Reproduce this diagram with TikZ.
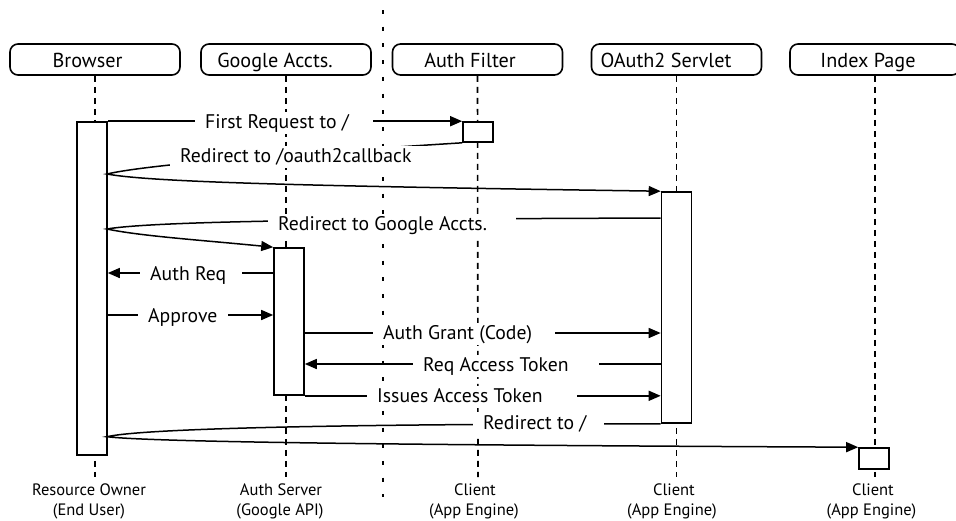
\documentclass[tikz,border=0pt]{standalone}
\usepackage{fontspec}
\setmainfont{PT Sans}
\usetikzlibrary{arrows.meta}
\newcommand{\msglab}[2]{\hspace*{10pt}#1\hspace*{#2}}
\tikzset{
  head/.style={draw, line width=1.6pt, rounded corners=8pt, minimum width=170pt, minimum height=31pt, inner sep=0pt},
  headtext/.style={font=\fontsize{20.2}{22}\selectfont, inner sep=0pt, anchor=base},
  life/.style={line width=1.6pt, dash pattern=on 6pt off 5pt},
  sepline/.style={line width=1.6pt, dash pattern=on 4pt off 12.7pt},
  act/.style={draw, fill=white, line width=1.6pt, minimum width=30pt, inner sep=0pt},
  msg/.style={line width=1.5pt, -{Triangle[length=12pt,width=10pt]}},
  lbl/.style={fill=white, font=\fontsize{19.7}{22}\selectfont, inner xsep=0pt, inner ysep=2pt, text height=14pt, text depth=4pt, anchor=base west},
  foot/.style={font=\fontsize{16.5}{20}\selectfont, inner sep=0pt, anchor=base},
}
\begin{document}
\begin{tikzpicture}[x=1pt,y=-1pt]
\useasboundingbox (0,0) rectangle (956,520);
% separator
\coordinate (sepT) at (383,10);
\coordinate (sepB) at (383,497);
\draw[sepline] (sepT) -- (sepB);
% heads
\node[head] (hB) at (95,59.5) {};
\node[head] (hG) at (286,59.5) {};
\node[head] (hF) at (477.5,59.5) {};
\node[head] (hO) at (676.5,59.5) {};
\node[head] (hI) at (875,59.5) {};
\node[headtext] (tB) at (87.5,67) {Browser};
\node[headtext] (tG) at (275,67) {Google Accts.};
\node[headtext] (tF) at (470,67) {Auth Filter};
\node[headtext] (tO) at (666,67) {OAuth2 Servlet};
\node[headtext] (tI) at (868,67) {Index Page};
% lifelines
\coordinate (eB) at (95,477);
\coordinate (eG) at (286,477);
\coordinate (eF) at (478,477);
\coordinate (eO) at (676.5,477);
\coordinate (eI) at (875,477);
\draw[life] (hB.south) -- (eB);
\draw[life] (hG.south) -- (eG);
\draw[life] (hF.south) -- (eF);
\draw[life] (hO.south) -- (eO);
\draw[life] (hI.south) -- (eI);
% activations
\node[act, minimum height=333pt] (aB) at (92,288.5) {};
\node[act, minimum height=20pt] (aF) at (478,132) {};
\node[act, minimum height=231pt] (aO) at (676.5,307.5) {};
\node[act, minimum height=147pt] (aG) at (289,321.5) {};
\node[act, minimum height=21pt] (aI) at (874,458.5) {};
% hairpin tips
\coordinate (t1) at (107,174);
\coordinate (t2) at (107,229);
\coordinate (t3) at (107,436.7);
% messages
\draw[msg] (aB.north east) -- (aF.north west);
\draw[msg] (aF.south west) .. controls (300,153) and (150,164) .. (t1)
                            .. controls (150,182) and (300,186) .. (aO.north west);
\draw[msg] (aO.west |- 0,218) .. controls (400,219) and (160,220) .. (t2)
                               .. controls (140,236) and (200,240) .. (aG.north west);
\draw[msg] (aG.west |- 0,273) -- (aB.east |- 0,273);
\draw[msg] (aB.east |- 0,315) -- (aG.west |- 0,315);
\draw[msg] (aG.east |- 0,333) -- (aO.west |- 0,333);
\draw[msg] (aO.west |- 0,364) -- (aG.east |- 0,364);
\draw[msg] (aG.south east) -- (aO.west |- aG.south east);
\draw[msg] (aO.south west) .. controls (400,424) and (150,427) .. (t3)
                            .. controls (150,442) and (400,445) .. (aI.north west);
% labels
\node[lbl] (l1) at (195,128) {\msglab{First Request to /}{24pt}};
\node[lbl] (l2) at (170,162) {\msglab{Redirect to /oauth2callback}{22pt}};
\node[lbl] (l3) at (268,230) {\msglab{Redirect to Google Accts.}{29pt}};
\node[lbl] (l4) at (140,280) {\msglab{Auth Req}{16pt}};
\node[lbl] (l5) at (138,322) {\msglab{Approve}{11pt}};
\node[lbl] (l6) at (373,339) {\msglab{Auth Grant (Code)}{23pt}};
\node[lbl] (l7) at (413,371) {\msglab{Req Access Token}{30pt}};
\node[lbl] (l8) at (367,402) {\msglab{Issues Access Token}{34pt}};
\node[lbl] (l9) at (473,429) {\msglab{Redirect to /}{18pt}};
% foot labels
\node[foot] (fB1) at (89,495) {Resource Owner};
\node[foot] (fB2) at (89,515) {(End User)};
\node[foot] (fG1) at (281,495) {Auth Server};
\node[foot] (fG2) at (280,515) {(Google API)};
\node[foot] (fF1) at (475,495) {Client};
\node[foot] (fF2) at (474,515) {(App Engine)};
\node[foot] (fO1) at (674,495) {Client};
\node[foot] (fO2) at (672,515) {(App Engine)};
\node[foot] (fI1) at (873,495) {Client};
\node[foot] (fI2) at (871.5,515) {(App Engine)};
\end{tikzpicture}
\end{document}
